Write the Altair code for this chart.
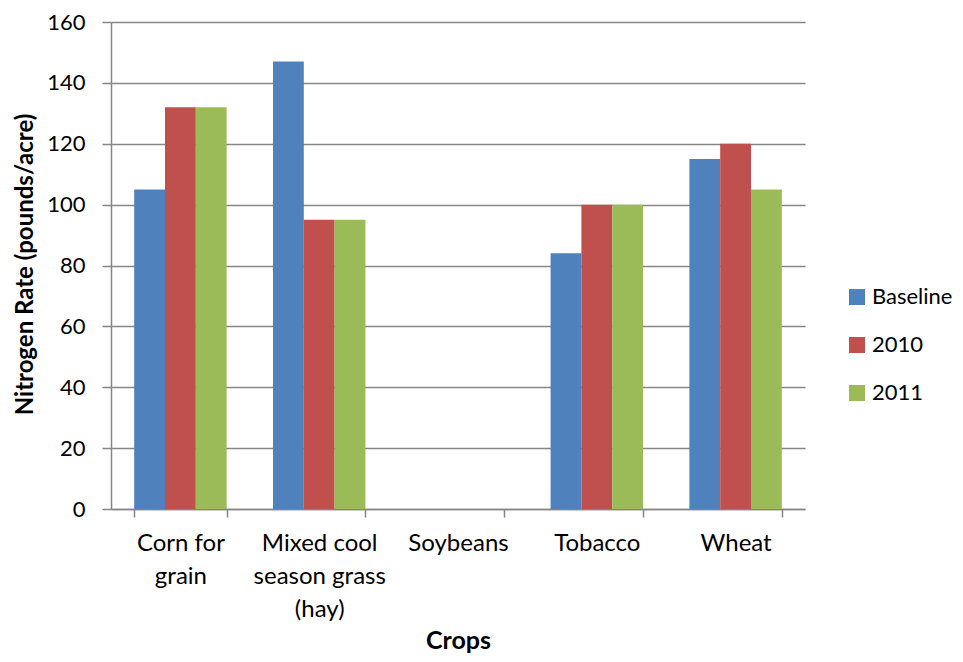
import altair as alt
import pandas as pd

crops = ["Corn for grain", "Mixed cool season grass (hay)", "Soybeans", "Tobacco", "Wheat"]
series = ["Baseline", "2010", "2011"]
baseline = [105, 147, None, 84, 115]
y2010 = [132, 95, None, 100, 120]
y2011 = [132, 95, None, 100, 105]
colors = ["#4F81BD", "#C0504D", "#9BBB59"]

rows = []
for s, vals in zip(series, [baseline, y2010, y2011]):
    for c, v in zip(crops, vals):
        if v is not None:
            rows.append({"crop": c, "series": s, "value": v})
df = pd.DataFrame(rows)

wrapped = {
    "Corn for grain": ["Corn for", "grain"],
    "Mixed cool season grass (hay)": ["Mixed cool", "season grass", "(hay)"],
}
expr = "datum.value"
for k, lines in wrapped.items():
    arr = "[" + ",".join("'" + l + "'" for l in lines) + "]"
    expr = f"datum.value == '{k}' ? {arr} : ({expr})"

FONT = "Lato"
GRAY = "#868686"

chart = alt.Chart(df).mark_bar().encode(
    x=alt.X(
        "crop:N",
        scale=alt.Scale(domain=crops, paddingInner=0.334, paddingOuter=0.167),
        axis=alt.Axis(
            title="Crops",
            labelAngle=0,
            labelExpr=expr,
            labelLineHeight=33,
            labelBaseline="top",
            labelPadding=14,
            tickBand="extent",
            tickSize=8,
            tickColor=GRAY,
            domainColor=GRAY,
            titleX=347,
            titleY=131,
            titleBaseline="middle",
            titleAlign="center",
        ),
    ),
    xOffset=alt.XOffset("series:N", sort=series),
    y=alt.Y(
        "value:Q",
        scale=alt.Scale(domain=[0, 160], nice=False),
        axis=alt.Axis(
            title="Nitrogen Rate (pounds/acre)",
            values=list(range(0, 161, 20)),
            tickSize=9,
            labelPadding=17,
            labelFontSize=22,
            tickColor=GRAY,
            domainColor=GRAY,
            gridColor=GRAY,
            titleX=-86,
            titleY=242,
            titleBaseline="middle",
            titleAlign="center",
            titleAngle=-90,
            titleFontSize=24,
        ),
    ),
    color=alt.Color(
        "series:N",
        sort=series,
        scale=alt.Scale(domain=series, range=colors),
        legend=alt.Legend(
            title=None,
            orient="none",
            legendX=735,
            legendY=264,
            symbolType="square",
            symbolSize=256,
            symbolStrokeWidth=0,
            rowPadding=26,
            labelOffset=4,
        ),
    ),
).properties(
    width=694,
    height=487,
    autosize=alt.AutoSizeParams(type="none"),
    padding={"left": 103, "top": 14, "right": 150, "bottom": 144},
).configure_view(
    stroke=None
).configure_axis(
    labelFont=FONT,
    labelFontSize=24,
    labelColor="#000000",
    titleFont=FONT,
    titleFontSize=25,
    titleFontWeight="bold",
    titleColor="#000000",
    gridWidth=1.5,
    domainWidth=1.5,
    tickWidth=1.5,
).configure_axisX(
    grid=False
).configure_legend(
    labelFont=FONT,
    labelFontSize=22,
    labelColor="#000000",
)

chart.save("out.html", embed_options={"renderer": "svg", "actions": False})
